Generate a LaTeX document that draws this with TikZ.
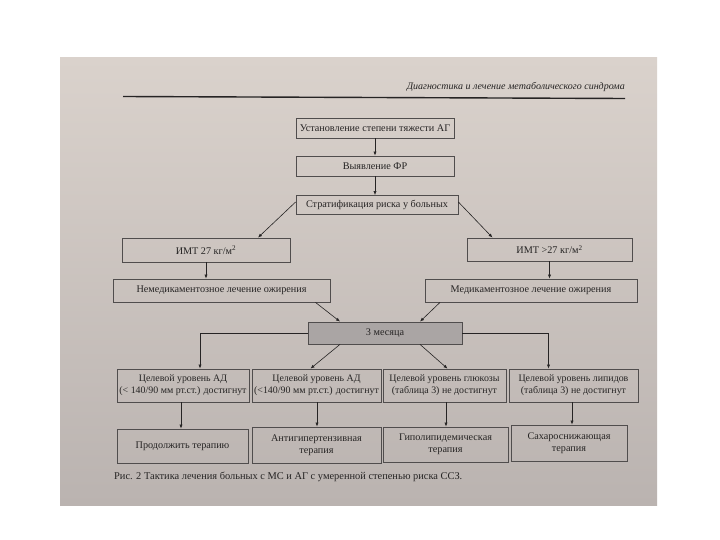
\documentclass[tikz,border=0pt]{standalone}
\usepackage{fontspec}
\setmainfont{Liberation Serif}
\usetikzlibrary{arrows.meta}
\definecolor{pagetop}{RGB}{218,210,204}
\definecolor{pagebot}{RGB}{186,179,176}
\definecolor{ink}{RGB}{38,36,36}
\definecolor{boxline}{RGB}{80,77,77}
\definecolor{monthfill}{RGB}{170,165,164}
\tikzset{
  pbox/.style={draw=boxline, line width=0.8pt, inner sep=0pt, align=center,
    text=ink, font=\fontsize{10.2}{12}\selectfont},
  conn/.style={draw=ink, line width=0.6pt, -{Latex[length=4pt,width=3.2pt]}},
}
\begin{document}
\begin{tikzpicture}[x=1pt,y=-1pt]
\useasboundingbox (0,0) rectangle (720,540);
\fill[white] (0,0) rectangle (720,540);
\shade[top color=pagetop, bottom color=pagebot] (60,58) rectangle (657,505);
% header
\node[anchor=south east, inner sep=0pt, text=ink, font=\fontsize{10}{12}\selectfont\itshape] (hdr) at (625,92) {Диагностика и лечение метаболического синдрома};
\draw[ink, line width=1.4pt] (123,96.5) -- (625,98.5);
% boxes
\node[pbox, minimum width=158pt, minimum height=20pt] (b1) at (375,128) {Установление степени тяжести АГ};
\node[pbox, minimum width=158pt, minimum height=20pt] (b2) at (375,166) {Выявление ФР};
\node[pbox, minimum width=162pt, minimum height=19pt] (b3) at (377,205) {Стратификация риска у больных};
\node[pbox, minimum width=168pt, minimum height=24pt] (l1) at (206,250) {ИМТ 27 кг/м\textsuperscript{2}};
\node[pbox, minimum width=165pt, minimum height=23pt] (r1) at (549.5,249.5) {ИМТ >27 кг/м\textsuperscript{2}};
\node[pbox, minimum width=217pt, minimum height=23pt] (l2) at (221.5,290.5) {Немедикаментозное лечение ожирения};
\node[pbox, minimum width=212pt, minimum height=23pt] (r2) at (531,290.5) {Медикаментозное лечение ожирения};
\node[pbox, fill=monthfill, minimum width=154pt, minimum height=22pt] (m) at (385,333) {3 месяца};
\node[pbox, minimum width=132pt, minimum height=33pt, font=\fontsize{9.9}{12}\selectfont] (c1) at (183,385.5) {Целевой уровень АД\\(< 140/90 мм рт.ст.) достигнут};
\node[pbox, minimum width=129pt, minimum height=33pt, font=\fontsize{9.9}{12}\selectfont] (c2) at (316.5,385.5) {Целевой уровень АД\\(<140/90 мм рт.ст.) достигнут};
\node[pbox, minimum width=123pt, minimum height=33pt, font=\fontsize{9.9}{12}\selectfont] (c3) at (444.5,385.5) {Целевой уровень глюкозы\\(таблица 3) не достигнут};
\node[pbox, minimum width=129pt, minimum height=33pt, font=\fontsize{9.9}{12}\selectfont] (c4) at (573.5,385.5) {Целевой уровень липидов\\(таблица 3) не достигнут};
\node[pbox, minimum width=131pt, minimum height=34pt] (t1) at (182.5,446) {Продолжить терапию};
\node[pbox, minimum width=129pt, minimum height=36pt] (t2) at (316.5,445) {Антигипертензивная\\терапия};
\node[pbox, minimum width=125pt, minimum height=35pt] (t3) at (445.5,444.5) {Гиполипидемическая\\терапия};
\node[pbox, minimum width=116pt, minimum height=36pt] (t4) at (569,443) {Сахароснижающая\\терапия};
% caption
\node[anchor=west, inner sep=0pt, text=ink, font=\fontsize{10.4}{12}\selectfont] (cap) at (114,477) {Рис. 2 Тактика лечения больных с МС и АГ с умеренной степенью риска ССЗ.};
% connectors
\draw[conn] (b1) -- (b2);
\draw[conn] (b2.south) -- (b2.south |- b3.north);
\draw[conn] ([yshift=3pt]b3.west) -- ([xshift=52pt]l1.north);
\draw[conn] ([yshift=3pt]b3.east) -- ([xshift=-57pt]r1.north);
\draw[conn] (l1.south) -- (l1.south |- l2.north);
\draw[conn] (r1.south) -- (r1.south |- r2.north);
\draw[conn] ([xshift=94pt]l2.south) -- ([xshift=-45pt]m.north);
\draw[conn] ([xshift=-91pt]r2.south) -- ([xshift=35pt]m.north);
\draw[conn] (m.west) -| ([xshift=17pt]c1.north);
\draw[conn] ([xshift=-45pt]m.south) -- ([xshift=-6pt]c2.north);
\draw[conn] ([xshift=35pt]m.south) -- ([xshift=3pt]c3.north);
\draw[conn] (m.east) -| ([xshift=-25pt]c4.north);
\draw[conn] ([xshift=-2pt]c1.south) -- ([xshift=-1.5pt]t1.north);
\draw[conn] ([xshift=0.5pt]c2.south) -- ([xshift=0.5pt]t2.north);
\draw[conn] ([xshift=1.5pt]c3.south) -- ([xshift=0.5pt]t3.north);
\draw[conn] ([xshift=-1.5pt]c4.south) -- ([xshift=3pt]t4.north);
\end{tikzpicture}
\end{document}
